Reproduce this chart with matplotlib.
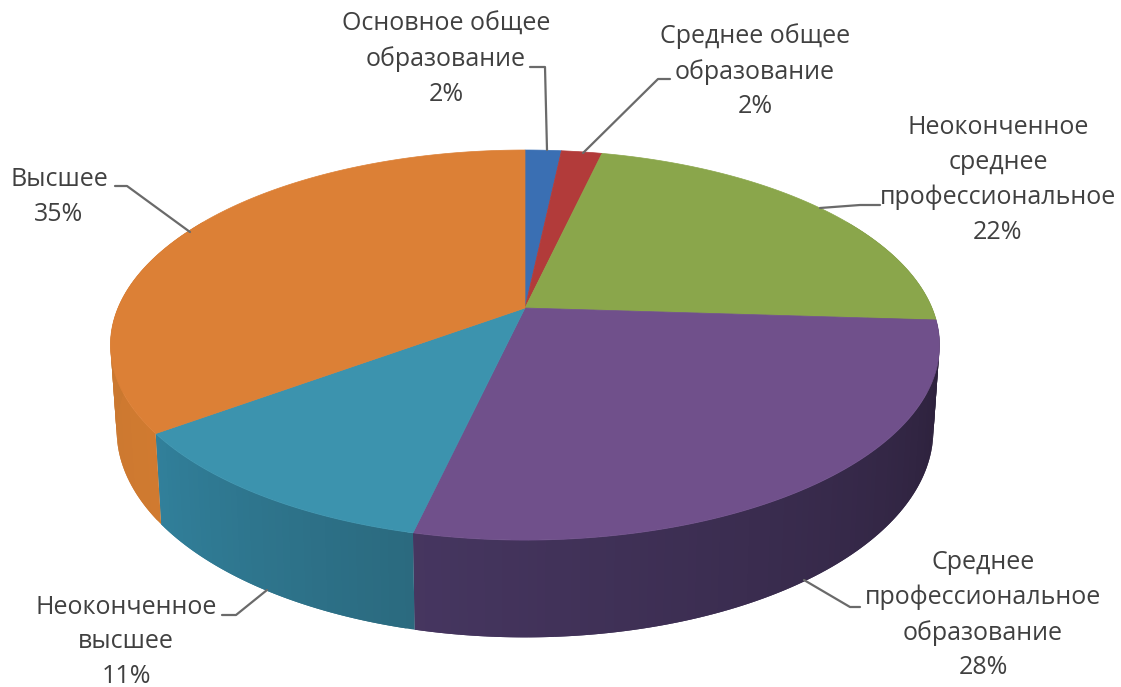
import numpy as np
import matplotlib
matplotlib.use("Agg")
import matplotlib.pyplot as plt
from matplotlib.colors import to_rgb
from matplotlib.patches import Polygon

plt.rcParams["font.family"] = ["Open Sans", "DejaVu Sans"]

# ---- data ----
categories = [
    "Основное общее\nобразование",
    "Среднее общее\nобразование",
    "Неоконченное\nсреднее\nпрофессиональное",
    "Среднее\nпрофессиональное\nобразование",
    "Неоконченное\nвысшее",
    "Высшее",
]
shares = [1.7, 1.9, 22.4, 27.6, 11.3, 35.1]

top_colors = ["#3a6fb3", "#b23b3a", "#8aa64b", "#70508b", "#3c93ae", "#dc8036"]
wall_left = ["#2c5488", "#86302e", "#67803a", "#463660", "#31809b", "#c4762f"]
wall_right = ["#2c5488", "#86302e", "#67803a", "#2a1f38", "#2b6a7f", "#d07a30"]

# label centre, leader line (image pixels)
label_pos = [(446, 59), (755, 71), (998, 180), (983, 615), (126, 642), (59, 197)]
leaders = [
    [(530, 67), (545, 67), (547, 150)],
    [(670, 79), (658, 79), (583, 153)],
    [(880, 205), (860, 205), (820, 208)],
    [(860, 607), (850, 607), (804, 580)],
    [(222, 615), (236, 615), (267, 590)],
    [(115, 186), (127, 186), (190, 232)],
]

# ---- perspective of the disc ----
APEX_X, APEX_Y = 525, 308
PERSP = 0.19
RAD_X, RAD_Y = 407, 188
WALL_SX, WALL_SY, WALL_Y = 0.985, 1.0615, 391


def rim(angle):
    # angle in degrees, clockwise from 12 o'clock
    t = np.radians(angle)
    u, v = np.sin(t), np.cos(t)
    d = 1 + PERSP * v
    return RAD_X * u / d, RAD_Y * v / d


def top_xy(angle):
    x, y = rim(angle)
    return APEX_X + x, APEX_Y - y


def low_xy(angle):
    x, y = rim(angle)
    return APEX_X + WALL_SX * x, WALL_Y - WALL_SY * y


fig = plt.figure(figsize=(11.21, 6.87), dpi=100)
ax = fig.add_axes([0, 0, 1, 1])
ax.set_xlim(0, 1121)
ax.set_ylim(687, 0)
ax.axis("off")

total = sum(shares)
edges = np.cumsum([0] + shares) / total * 360

# side walls first, the disc paints over whatever faces backwards
for i in range(len(shares)):
    a0, a1 = edges[i], edges[i + 1]
    lo, hi = max(a0, 60), min(a1, 300)
    if hi <= lo:
        continue
    steps = np.arange(lo, hi, 1.0).tolist() + [hi]
    c0, c1 = np.array(to_rgb(wall_right[i])), np.array(to_rgb(wall_left[i]))
    for s0, s1 in zip(steps[:-1], steps[1:]):
        f = (s0 - lo) / (hi - lo)
        col = c0 + (c1 - c0) * f
        # each strip runs on under the next one, that hides the seams
        s2 = min(s1 + 1.0, hi)
        arc = np.linspace(s0, s2, 4)
        tx, ty = top_xy(arc)
        bx, by = low_xy(arc[::-1])
        pts = np.column_stack([np.r_[tx, bx], np.r_[ty, by]])
        ax.add_patch(Polygon(pts, closed=True, facecolor=col, edgecolor="none"))

for i in range(len(shares)):
    arc = np.linspace(edges[i], edges[i + 1], 120)
    xs, ys = top_xy(arc)
    pts = np.column_stack([np.r_[APEX_X, xs], np.r_[APEX_Y, ys]])
    ax.add_patch(Polygon(pts, closed=True, facecolor=top_colors[i], edgecolor=top_colors[i], linewidth=0.5))

for name, val, pos, line in zip(categories, shares, label_pos, leaders):
    lx, ly = zip(*line)
    ax.plot(lx, ly, color="#6a6a6a", lw=1.6, solid_capstyle="round")
    ax.text(pos[0], pos[1], f"{name}\n{round(val)}%", ha="center", va="center",
            fontsize=18, color="#404040", linespacing=1.5)

fig.savefig("out.png", dpi=100)
